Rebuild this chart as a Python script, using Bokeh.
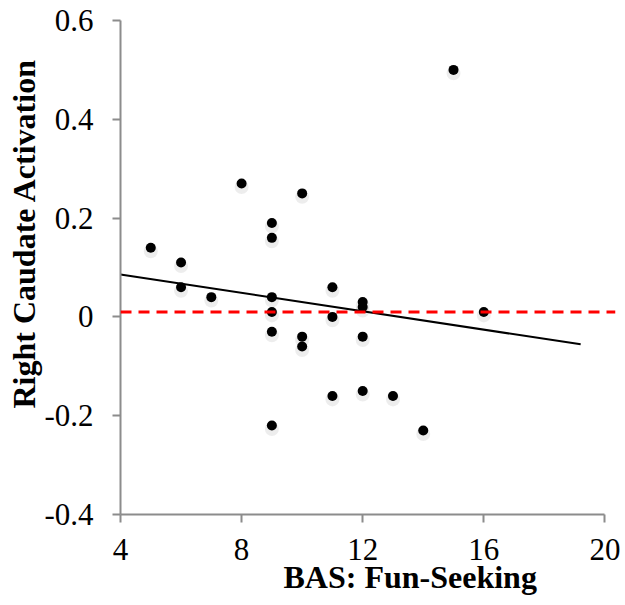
import numpy as np
from bokeh.plotting import figure
from bokeh.models import Span, Title, FixedTicker
from bokeh.embed import file_html
from bokeh.resources import INLINE

# BAS Fun-Seeking score vs right caudate activation
fun_seeking = [5, 6, 6, 7, 8, 9, 9, 9, 9, 9, 9, 10, 10, 10, 11, 11, 11,
               12, 12, 12, 12, 13, 14, 15, 16]
caudate = [0.14, 0.11, 0.06, 0.04, 0.27, 0.19, 0.16, 0.04, 0.01, -0.03, -0.22,
           0.25, -0.04, -0.06, 0.06, 0.0, -0.16, 0.03, 0.02, -0.04, -0.15,
           -0.16, -0.23, 0.50, 0.01]

# trend line as drawn
trend_x = [4, 19.2]
trend_slope = -0.0093
trend_intercept = 0.123

ref_y = 0.01  # red dashed reference line

x_ticks = [4, 8, 12, 16, 20]
y_ticks = [-0.4, -0.2, 0.0, 0.2, 0.4, 0.6]
y_tick_labels = {-0.4: "-0.4", -0.2: "-0.2", 0.0: "0", 0.2: "0.2", 0.4: "0.4", 0.6: "0.6"}

FONT = "Liberation Serif"

p = figure(frame_width=495, frame_height=494,
           x_range=(4, 20.35), y_range=(-0.4, 0.6),
           output_backend="svg", toolbar_location=None,
           min_border_left=120, min_border_top=20,
           min_border_right=8, min_border_bottom=90)
p.outline_line_color = None
p.grid.visible = False
p.background_fill_color = "white"
p.border_fill_color = "white"

for ax in (p.xaxis[0], p.yaxis[0]):
    ax.axis_line_color = "#8c8c8c"
    ax.axis_line_width = 2
    ax.major_tick_line_color = "#8c8c8c"
    ax.major_tick_line_width = 2
    ax.major_tick_out = 8
    ax.major_tick_in = 0
    ax.minor_tick_line_color = None
    ax.major_label_text_font = FONT
    ax.major_label_text_font_size = "31px"
    ax.major_label_text_color = "black"

p.xaxis.ticker = FixedTicker(ticks=x_ticks)
p.xaxis.bounds = (4, 20)
p.xaxis.major_label_standoff = 16
p.yaxis.ticker = FixedTicker(ticks=y_ticks)
p.yaxis.major_label_overrides = y_tick_labels
p.yaxis.major_label_standoff = 19

# shadows under dots
shadow_y = [v - 0.007 for v in caudate]
p.scatter(fun_seeking, shadow_y, size=14, color="black", alpha=0.07, line_color=None)

p.add_layout(Span(location=ref_y, dimension="width", line_color="#ff0000",
                  line_width=3, line_dash="11 7"))

tx = np.array(trend_x, dtype=float)
p.line(tx, trend_slope * tx + trend_intercept, line_color="black", line_width=2)

p.scatter(fun_seeking, caudate, size=10, color="black", line_color=None)

xt = Title(text="BAS: Fun-Seeking", align="left", offset=163,
           text_font=FONT, text_font_size="32px", text_font_style="bold",
           text_color="black", standoff=-12)
p.add_layout(xt, "below")
yt = Title(text="Right Caudate Activation", align="left", offset=106,
           text_font=FONT, text_font_size="32px", text_font_style="bold",
           text_color="black", standoff=0)
p.add_layout(yt, "left")

open("out.html", "w").write(file_html(p, INLINE))
